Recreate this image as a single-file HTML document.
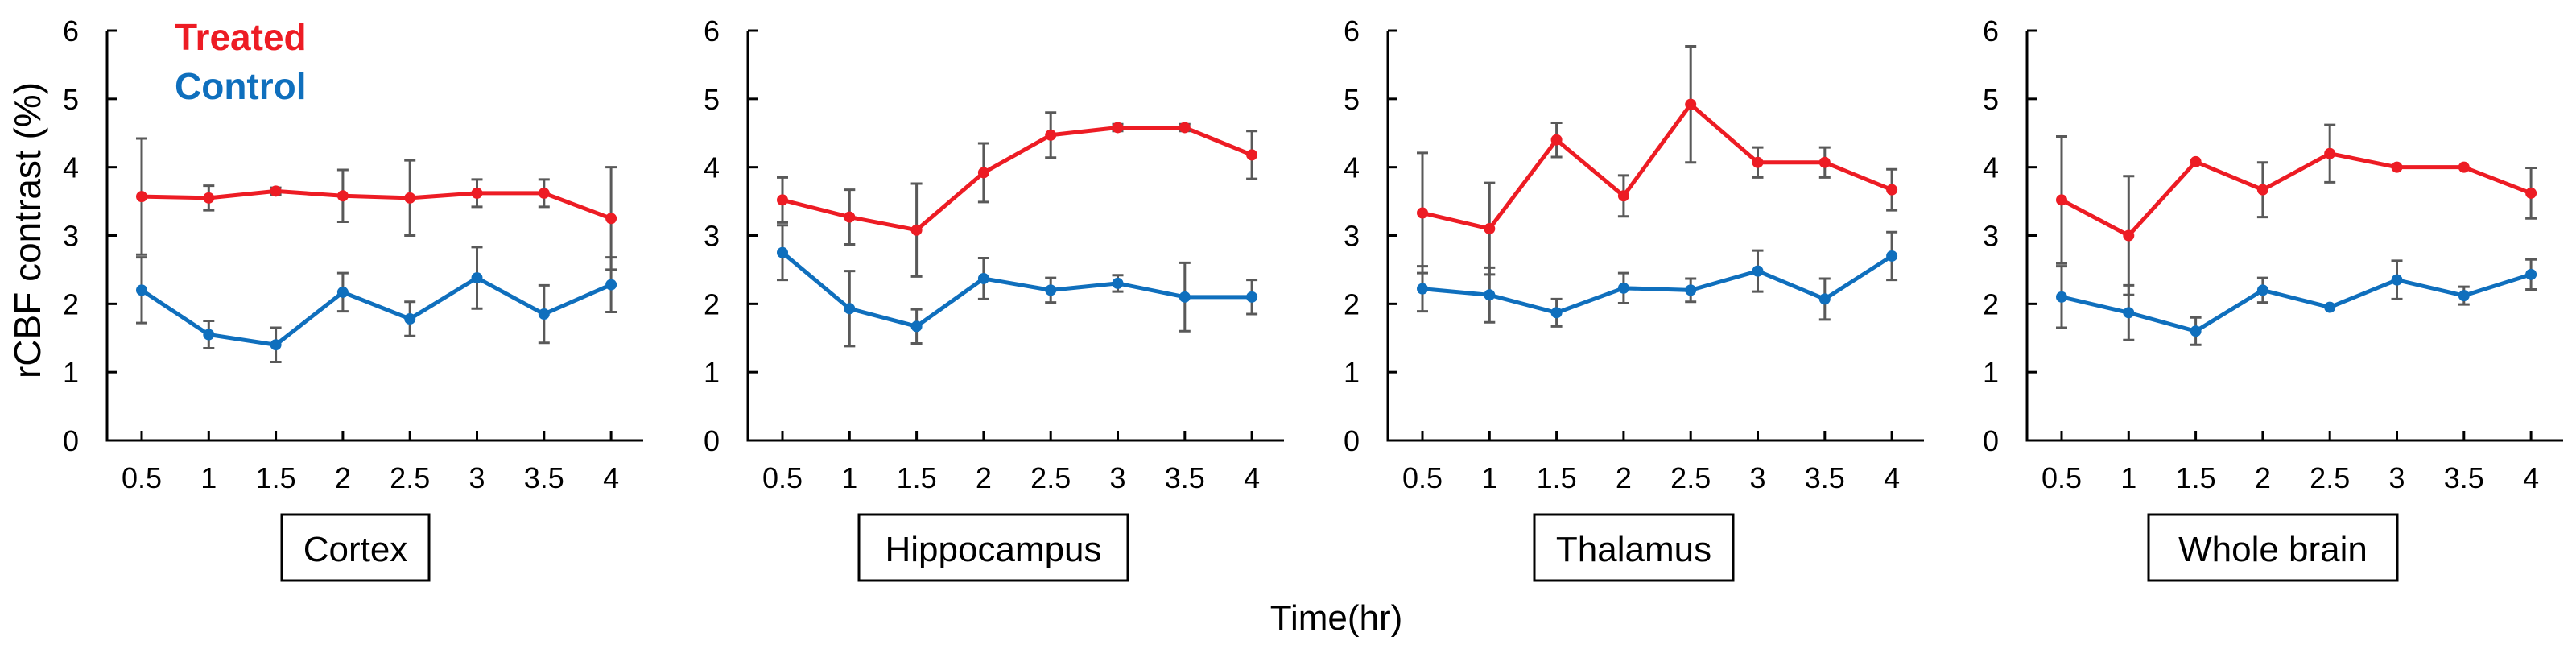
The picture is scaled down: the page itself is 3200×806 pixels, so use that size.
<!DOCTYPE html>
<html><head><meta charset="utf-8">
<style>
html,body{margin:0;padding:0;background:#fff;}
svg{display:block;font-family:"Liberation Sans",Arial,sans-serif;}
</style></head>
<body>
<svg id="chart" width="3200" height="806" viewBox="0 0 3200 806" xmlns="http://www.w3.org/2000/svg">
<text x="0" y="0" transform="translate(50,286) rotate(-90)" text-anchor="middle" font-size="46" fill="#000">rCBF contrast (%)</text>
<text x="217" y="62" font-size="46" font-weight="bold" fill="#ed1c24">Treated</text>
<text x="217" y="123" font-size="46" font-weight="bold" fill="#0f6fbd">Control</text>
<text x="1660" y="782" text-anchor="middle" font-size="44" fill="#000">Time(hr)</text>
</svg>
<script>
const categories = [0.5, 1, 1.5, 2, 2.5, 3, 3.5, 4];
const yTicks = [0, 1, 2, 3, 4, 5, 6];
const regions = ["Cortex", "Hippocampus", "Thalamus", "Whole brain"];
const treatedCortex = [3.57, 3.55, 3.65, 3.58, 3.55, 3.62, 3.62, 3.25];
const treatedCortexErr = [0.85, 0.18, 0.05, 0.38, 0.55, 0.2, 0.2, 0.75];
const controlCortex = [2.2, 1.55, 1.4, 2.17, 1.78, 2.38, 1.85, 2.28];
const controlCortexErr = [0.48, 0.2, 0.25, 0.28, 0.25, 0.45, 0.42, 0.4];
const treatedHippo = [3.52, 3.27, 3.08, 3.92, 4.47, 4.58, 4.58, 4.18];
const treatedHippoErr = [0.33, 0.4, 0.68, 0.43, 0.33, 0.05, 0.05, 0.35];
const controlHippo = [2.75, 1.93, 1.67, 2.37, 2.2, 2.3, 2.1, 2.1];
const controlHippoErr = [0.4, 0.55, 0.25, 0.3, 0.18, 0.12, 0.5, 0.25];
const treatedThal = [3.33, 3.1, 4.4, 3.58, 4.92, 4.07, 4.07, 3.67];
const treatedThalErr = [0.88, 0.67, 0.25, 0.3, 0.85, 0.22, 0.22, 0.3];
const controlThal = [2.22, 2.13, 1.87, 2.23, 2.2, 2.48, 2.07, 2.7];
const controlThalErr = [0.33, 0.4, 0.2, 0.22, 0.17, 0.3, 0.3, 0.35];
const treatedWhole = [3.52, 3.0, 4.08, 3.67, 4.2, 4.0, 4.0, 3.62];
const treatedWholeErr = [0.93, 0.87, 0, 0.4, 0.42, 0, 0, 0.37];
const controlWhole = [2.1, 1.87, 1.6, 2.2, 1.95, 2.35, 2.12, 2.43];
const controlWholeErr = [0.45, 0.4, 0.2, 0.18, 0, 0.28, 0.13, 0.22];

const treatedAll = [treatedCortex, treatedHippo, treatedThal, treatedWhole];
const treatedErrAll = [treatedCortexErr, treatedHippoErr, treatedThalErr, treatedWholeErr];
const controlAll = [controlCortex, controlHippo, controlThal, controlWhole];
const controlErrAll = [controlCortexErr, controlHippoErr, controlThalErr, controlWholeErr];

const NS = "http://www.w3.org/2000/svg";
const svg = document.getElementById("chart");
const axisXs = [133, 929, 1724, 2518];
const boxes = [[350, 533], [1067, 1401], [1906, 2153], [2669, 2978]];
const yTop = 38, yBot = 547, yMax = 6;
function mk(tag, attrs, parent) {
  const e = document.createElementNS(NS, tag);
  for (const k in attrs) e.setAttribute(k, attrs[k]);
  (parent || svg).appendChild(e);
  return e;
}
regions.forEach((name, p) => {
  const ax = axisXs[p];
  const g = mk("g", {});
  
  
  const xS = v => ax + 43 + (v - 0.5) / 0.5 * 83.3;
  const yS = v => yBot - v / yMax * (yBot - yTop);
  // axes
  const ya = mk("line", {x1: ax, y1: yTop, x2: ax, y2: yBot, stroke: "#000", "stroke-width": 3}, g);
  
  
  const xa = mk("line", {x1: ax - 1.5, y1: yBot, x2: ax + 666, y2: yBot, stroke: "#000", "stroke-width": 3}, g);
  
  
  yTicks.forEach(t => {
    const y = yS(t);
    mk("line", {x1: ax, y1: y, x2: ax + 12, y2: y, stroke: "#000", "stroke-width": 3}, g);
    const tx = mk("text", {x: ax - 35, y: y + 13, "text-anchor": "end", "font-size": 36, fill: "#000"}, g);
    tx.textContent = t;
    
    
  });
  categories.forEach(c => {
    const x = xS(c);
    mk("line", {x1: x, y1: yBot, x2: x, y2: yBot - 12, stroke: "#000", "stroke-width": 3}, g);
    const tx = mk("text", {x: x, y: 606, "text-anchor": "middle", "font-size": 36, fill: "#000"}, g);
    tx.textContent = c;
    
    
  });
  // region label box
  const [bx1, bx2] = boxes[p];
  const rb = mk("rect", {x: bx1, y: 639, width: bx2 - bx1, height: 82, fill: "#fff", stroke: "#000", "stroke-width": 3}, g);
  
  
  const rt = mk("text", {x: (bx1 + bx2) / 2, y: 697, "text-anchor": "middle", "font-size": 44, fill: "#000"}, g);
  rt.textContent = name;
  
  
  // series
  const series = [
    {vals: controlAll[p], errs: controlErrAll[p], color: "#0f6fbd", key: "control"},
    {vals: treatedAll[p], errs: treatedErrAll[p], color: "#ed1c24", key: "treated"}
  ];
  series.forEach(s => {
    const pts = s.vals.map((v, i) => xS(categories[i]) + "," + yS(v)).join(" ");
    const pl = mk("polyline", {points: pts, fill: "none", stroke: s.color, "stroke-width": 5, "stroke-linejoin": "round"}, g);
    
    
  });
  series.forEach(s => {
    s.vals.forEach((v, i) => {
      const x = xS(categories[i]), e = s.errs[i];
      if (e > 0) {
        const eb = mk("path", {d: `M${x},${yS(v + e)}V${yS(v - e)}M${x - 7},${yS(v + e)}h14M${x - 7},${yS(v - e)}h14`, stroke: "#595959", "stroke-width": 3, fill: "none"}, g);
        
        
      }
    });
  });
  series.forEach(s => {
    s.vals.forEach((v, i) => {
      const c = mk("circle", {cx: xS(categories[i]), cy: yS(v), r: 7, fill: s.color}, g);
      
      
    });
  });
});
</script>
</body></html>
